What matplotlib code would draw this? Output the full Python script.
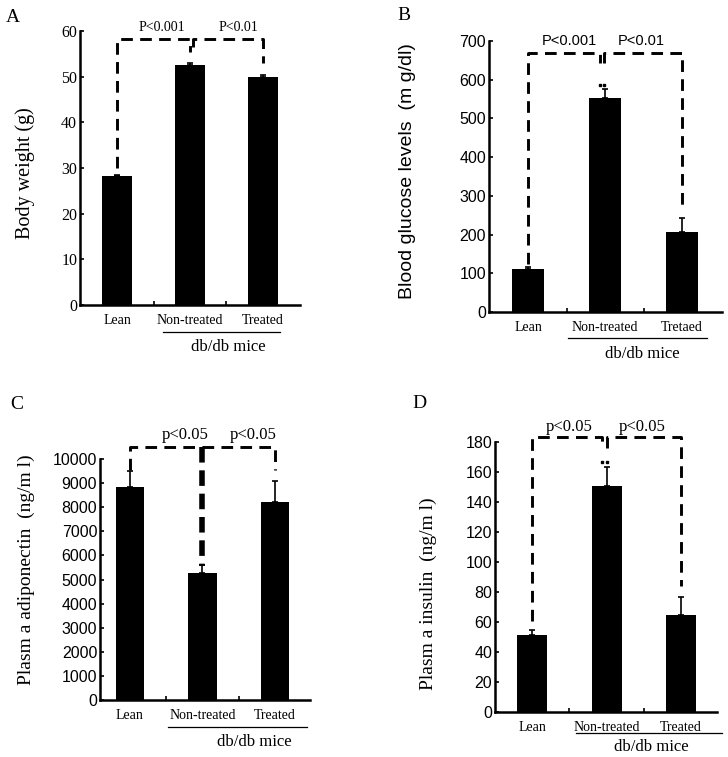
import matplotlib.pyplot as plt
import matplotlib.transforms as mt

# ---- data ----
groups = ['Lean', 'Non-treated', 'Treated']
groups_b = ['Lean', 'Non-treated', 'Tretaed']

weight = [28.2, 52.6, 50.0]
weight_err = [0.3, 0.3, 0.3]

glucose = [112, 554, 207]
glucose_err = [4, 23, 37]

adiponectin = [8850, 5250, 8200]
adiponectin_err = [650, 350, 900]

insulin = [51.5, 150.8, 65.0]
insulin_err = [3.2, 12.5, 11.5]

W, H = 728, 757
fig = plt.figure(figsize=(W / 100, H / 100), dpi=100)

SERIF = 'Liberation Serif'
SANS = 'Liberation Sans'


def make_axes(left, right, bottom, top):
    # pixel box (top-left origin) -> figure fraction
    return fig.add_axes([left / W, 1 - bottom / H, (right - left) / W, (bottom - top) / H])


def panel(ax, vals, errs, names, ymax, step, xlim, tick_font, width=0.41):
    x = range(len(vals))
    ax.bar(x, vals, width=width, color='black', zorder=2)
    ax.errorbar(x, vals, yerr=[[0] * len(errs), errs], fmt='none', ecolor='black',
                elinewidth=1.2, capsize=2.5, capthick=1.2, zorder=3)
    ax.set_xlim(*xlim)
    ax.set_ylim(0, ymax)
    ax.set_yticks(range(0, ymax + 1, step))
    ax.set_xticks([0.5, 1.5])
    ax.set_xticklabels([])
    for s in ['top', 'right']:
        ax.spines[s].set_visible(False)
    for s in ['left', 'bottom']:
        ax.spines[s].set_linewidth(1.8)
    ax.tick_params(axis='both', direction='in', length=3, width=1.2, pad=2)
    for lab in ax.get_yticklabels():
        lab.set_fontfamily(tick_font)
        lab.set_fontsize(11.5)
    # category labels under the bars
    for i, n in enumerate(names):
        ax.annotate(n, xy=(i, 0), xycoords=('data', 'axes fraction'),
                    xytext=(0, -11), textcoords='offset points', ha='center', va='center',
                    fontfamily=SERIF, fontsize=10)


def dbdb(ax, x0, x1, xc, dy_line, dy_text):
    off = mt.offset_copy(ax.get_xaxis_transform(), fig=fig, y=-dy_line * 0.72, units='points')
    ax.plot([x0, x1], [0, 0], color='black', lw=0.9, transform=off, clip_on=False)
    ax.annotate('db/db mice', xy=(xc, 0), xycoords=('data', 'axes fraction'),
                xytext=(0, -dy_text * 0.72), textcoords='offset points', ha='center', va='center',
                fontfamily=SERIF, fontsize=12)


def bracket(ax, yb, y_left, y_mid_l, y_mid_r, y_right, xl=1.0, xr=1.0, lw=2.1, dash=(4, 2.5)):
    kw = dict(color='black', lw=lw, linestyle=(0, dash), clip_on=False, zorder=4,
              solid_capstyle='butt', dash_capstyle='butt')
    ax.plot([0, 0, xl, xl], [y_left, yb, yb, y_mid_l], **kw)
    ax.plot([xr, xr, 2, 2], [y_mid_r, yb, yb, y_right], **kw)


def ylabel(ax, text, font, size, fx, fy):
    ax.set_ylabel(text, fontfamily=font, fontsize=size)
    ax.yaxis.set_label_coords(fx, fy)


# ---------------- A ----------------
axA = make_axes(80, 300, 305, 31)
panel(axA, weight, weight_err, groups, 60, 10, (-0.51, 2.51), SERIF)
ylabel(axA, 'Body weight (g)', SERIF, 14.5, -0.205, 0.48)
bracket(axA, 58.2, 30, 55.4, 56.5, 53, xl=1.0, xr=1.04)
axA.text(0.62, 60.7, 'P<0.001', ha='center', va='center', fontfamily=SERIF, fontsize=10)
axA.text(1.66, 60.7, 'P<0.01', ha='center', va='center', fontfamily=SERIF, fontsize=10)
dbdb(axA, 0.63, 2.23, 1.52, 27, 42)
fig.text(13 / W, 1 - 17 / H, 'A', fontfamily=SERIF, fontsize=14, ha='center', va='center')

# ---------------- B ----------------
axB = make_axes(489, 722, 312, 41)
panel(axB, glucose, glucose_err, groups_b, 700, 100, (-0.51, 2.52), SANS)
ylabel(axB, 'Blood glucose levels  (m g/dl)', SANS, 14, -0.313, 0.52)
bracket(axB, 669, 125, 643, 643, 265, xl=0.93, xr=0.99)
axB.plot([0.93, 0.99], [586, 586], ls='none', marker='s', ms=2.0, color='black')
axB.text(0.53, 700, 'P<0.001', ha='center', va='center', fontfamily=SANS, fontsize=10.5)
axB.text(1.47, 700, 'P<0.01', ha='center', va='center', fontfamily=SANS, fontsize=10.5)
dbdb(axB, 0.52, 2.32, 1.48, 26, 42)
fig.text(404 / W, 1 - 15 / H, 'B', fontfamily=SERIF, fontsize=14, ha='center', va='center')

# ---------------- C ----------------
axC = make_axes(100, 310, 700, 459)
panel(axC, adiponectin, adiponectin_err, groups, 10000, 1000, (-0.41, 2.48), SANS, width=0.39)
ylabel(axC, 'Plasm a adiponectin  (ng/m l)', SERIF, 14, -0.31, 0.54)
bracket(axC, 10500, 9550, 10500, 10500, 9550)
axC.plot([1, 1], [10500, 5550], color='black', lw=4.0, linestyle=(0, (2.8, 1.4)),
         clip_on=False, zorder=4)
axC.text(0.76, 11000, 'p<0.05', ha='center', va='center', fontfamily=SERIF, fontsize=12)
axC.text(1.70, 11000, 'p<0.05', ha='center', va='center', fontfamily=SERIF, fontsize=12)
dbdb(axC, 0.52, 2.44, 1.72, 27, 42)
fig.text(17 / W, 1 - 405 / H, 'C', fontfamily=SERIF, fontsize=14, ha='center', va='center')

# ---------------- D ----------------
axD = make_axes(495, 717, 712, 442)
panel(axD, insulin, insulin_err, groups, 180, 20, (-0.5, 2.48), SANS, width=0.4)
ylabel(axD, 'Plasm a insulin  (ng/m l)', SERIF, 14, -0.26, 0.44)
bracket(axD, 183.3, 61, 176, 176, 84, xl=0.94, xr=1.01)
axD.plot([0.94, 1.01], [167, 167], ls='none', marker='s', ms=2.0, color='black')
axD.text(0.5, 190, 'p<0.05', ha='center', va='center', fontfamily=SERIF, fontsize=12)
axD.text(1.48, 190, 'p<0.05', ha='center', va='center', fontfamily=SERIF, fontsize=12)
dbdb(axD, 0.59, 2.55, 1.6, 21, 35)
fig.text(419 / W, 1 - 403 / H, 'D', fontfamily=SERIF, fontsize=14, ha='center', va='center')

fig.savefig('out.png', dpi=100)
